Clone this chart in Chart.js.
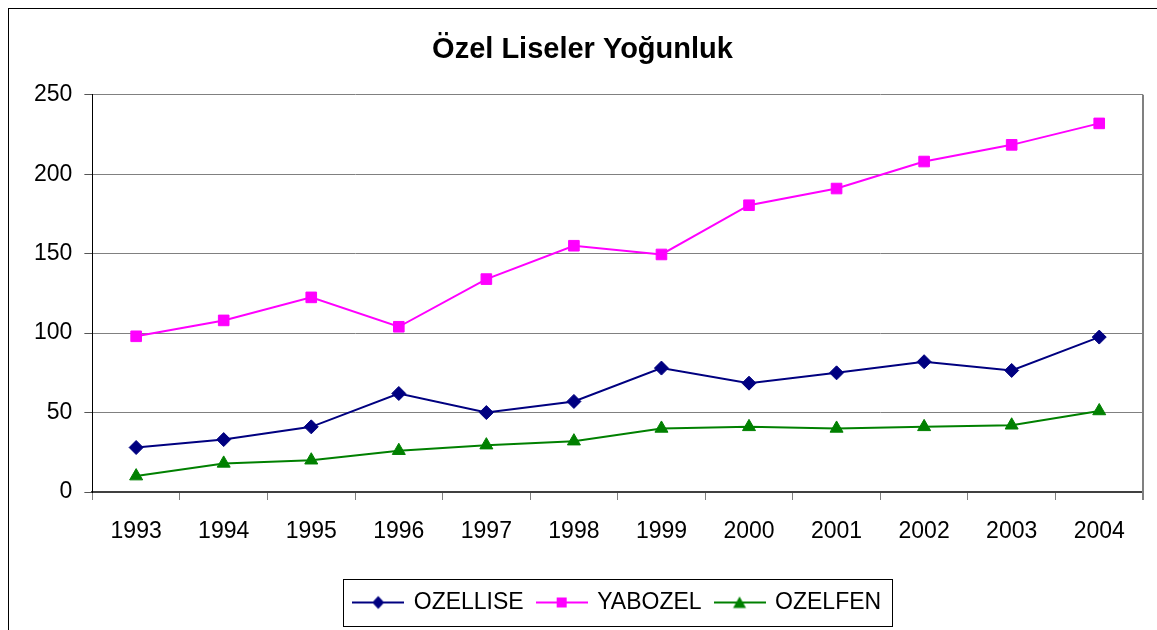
<!DOCTYPE html>
<html>
<head>
<meta charset="utf-8">
<script src="https://cdn.jsdelivr.net/npm/chart.js@4/dist/chart.umd.min.js"></script>
<style>
html,body{margin:0;padding:0;background:#fff;overflow:hidden;}
#frame{position:absolute;left:8px;top:8px;width:1300px;height:800px;border:1px solid #000;}
#wrap{position:absolute;left:0;top:0;width:1157px;height:630px;}
</style>
</head>
<body>
<div id="frame"></div>
<div id="wrap"><canvas id="c" width="1157" height="630"></canvas></div>
<script>
const chartTitle = 'Özel Liseler Yoğunluk';
const years = ['1993','1994','1995','1996','1997','1998','1999','2000','2001','2002','2003','2004'];
const ozellise = [28, 33, 41, 62, 50, 57, 78, 68.5, 75, 82, 76.5, 97.5];
const yabozel = [98, 108, 122.5, 104, 134, 155, 149.5, 180.5, 191, 208, 218.5, 232];
const ozelfen = [10, 18, 20, 26, 29.5, 32, 40, 41, 40, 41, 42, 51];
const seriesNames = ['OZELLISE', 'YABOZEL', 'OZELFEN'];
const yTicks = [0, 50, 100, 150, 200, 250];

const FONT = "'Liberation Sans', Arial, sans-serif";
const colors = ['#000080', '#FF00FF', '#008000'];
const styles = ['rectRot', 'rect', 'triangle'];
const radii = [7, 7.5, 7.5];

function makeIcon(color, style) {
  const c = document.createElement('canvas');
  c.width = 52; c.height = 16;
  const x = c.getContext('2d');
  x.strokeStyle = color; x.lineWidth = 2;
  x.beginPath(); x.moveTo(0, 8); x.lineTo(52, 8); x.stroke();
  x.fillStyle = color;
  x.beginPath();
  if (style === 'rectRot') {
    x.moveTo(26, 1.5); x.lineTo(32, 8); x.lineTo(26, 14.5); x.lineTo(20, 8);
  } else if (style === 'rect') {
    x.rect(21, 3, 10, 10);
  } else {
    x.moveTo(26, 2); x.lineTo(32.5, 13.5); x.lineTo(19.5, 13.5);
  }
  x.closePath(); x.fill();
  return c;
}
const icons = colors.map((c, i) => makeIcon(c, styles[i]));

const decor = {
  id: 'decor',
  beforeDatasetsDraw(chart) {
    const {ctx, chartArea} = chart;
    ctx.save();
    ctx.strokeStyle = '#808080';
    ctx.lineWidth = 2;
    ctx.beginPath();
    ctx.moveTo(chartArea.right, chartArea.top);
    ctx.lineTo(chartArea.right, chartArea.bottom + 8);
    ctx.stroke();
    ctx.restore();
  },
  afterDraw(chart) {
    const lg = chart.legend;
    if (!lg || !lg.legendHitBoxes || !lg.legendHitBoxes.length) return;
    const hb = lg.legendHitBoxes;
    let l = Infinity, r = -Infinity, t = Infinity, b = -Infinity;
    hb.forEach(h => { l = Math.min(l, h.left); r = Math.max(r, h.left + h.width); t = Math.min(t, h.top); b = Math.max(b, h.top + h.height); });
    const cy = (t + b) / 2;
    const ctx = chart.ctx;
    ctx.save();
    ctx.strokeStyle = '#000';
    ctx.lineWidth = 1;
    ctx.strokeRect(Math.round(l - 11) + 0.5, Math.round(cy - 23.5) + 0.5, Math.round(r - l + 22), 47);
    ctx.restore();
  }
};

const values = [ozellise, yabozel, ozelfen];
new Chart(document.getElementById('c'), {
  type: 'line',
  data: {
    labels: years,
    datasets: seriesNames.map((n, i) => ({
      label: n,
      data: values[i],
      borderColor: colors[i],
      backgroundColor: colors[i],
      borderWidth: 2,
      pointStyle: styles[i],
      pointRadius: radii[i],
      pointHoverRadius: radii[i],
      pointBorderWidth: 1,
      tension: 0,
      fill: false
    }))
  },
  options: {
    responsive: false,
    animation: false,
    devicePixelRatio: 1,
    layout: { padding: { left: 22, right: 14, top: 0, bottom: 6 } },
    plugins: {
      title: {
        display: true,
        text: chartTitle,
        color: '#000',
        font: { family: FONT, size: 29, weight: 'bold' },
        padding: { top: 33, bottom: 27 }
      },
      legend: {
        position: 'bottom',
        fullSize: false,
        labels: {
          color: '#000',
          font: { family: FONT, size: 23 },
          usePointStyle: true,
          pointStyleWidth: 48,
          padding: 14,
          generateLabels(chart) {
            return Chart.defaults.plugins.legend.labels.generateLabels(chart).map((it, i) => ({ ...it, pointStyle: icons[i] }));
          }
        }
      },
      tooltip: { enabled: false }
    },
    scales: {
      x: {
        type: 'category',
        offset: true,
        grid: { offset: true, drawOnChartArea: false, tickLength: 8, color: '#808080', tickColor: '#808080' },
        border: { display: true, color: '#404040', width: 2 },
        ticks: { color: '#000', font: { family: FONT, size: 23 }, padding: 18, maxRotation: 0 },
        afterFit(scale) { scale.height = 85; }
      },
      y: {
        min: 0,
        max: 250,
        afterBuildTicks(scale) { scale.ticks = yTicks.map(v => ({ value: v })); },
        grid: { color: '#808080', tickLength: 8, tickColor: '#555' },
        border: { display: true, color: '#000', width: 1 },
        ticks: { color: '#000', font: { family: FONT, size: 23 }, padding: 12 }
      }
    }
  },
  plugins: [decor]
});
</script>
</body>
</html>
